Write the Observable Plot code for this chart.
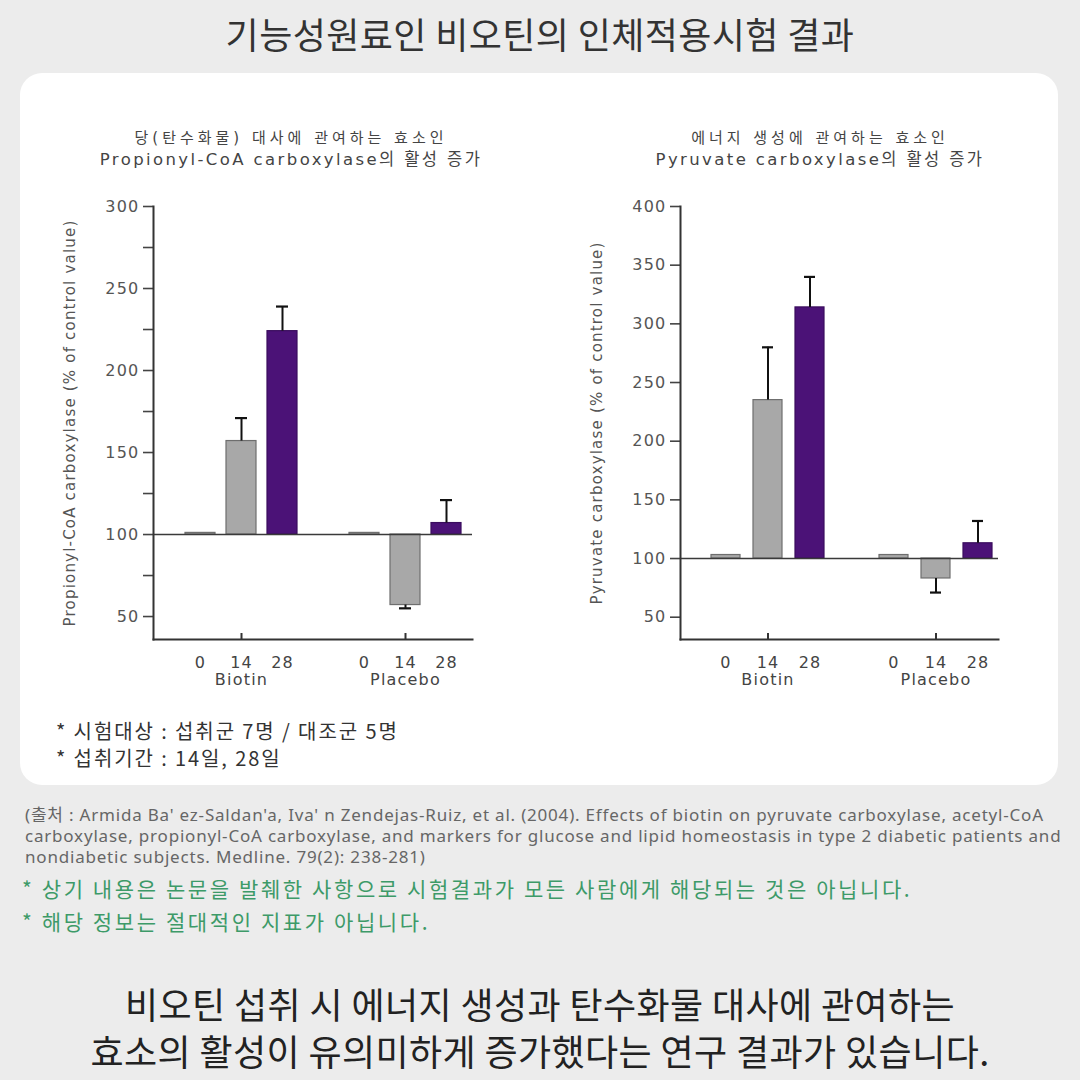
<!DOCTYPE html>
<html>
<head>
<meta charset="utf-8">
<script src="https://cdn.jsdelivr.net/npm/d3@7"></script>
<script src="https://cdn.jsdelivr.net/npm/@observablehq/plot@0.6"></script>
<style>
  html, body { margin: 0; padding: 0; background: #ececec; }
  #page { position: relative; width: 1080px; height: 1080px; background: #ececec; overflow: hidden;
          font-family: "Noto Sans CJK KR", "Noto Sans", sans-serif; }
  .abs { position: absolute; white-space: nowrap; }
  #title { left: 0; width: 1080px; top: 9px; text-align: center; font-size: 36px; line-height: 48px; color: #333; letter-spacing: 0.4px; }
  #panel { left: 20px; top: 73px; width: 1038px; height: 712px; background: #fff; border-radius: 22px; }
  .ct1 { width: 500px; text-align: center; font-size: 15px; line-height: 22px; color: #444; letter-spacing: 4px;
         font-family: "DejaVu Sans", "Noto Sans CJK KR", sans-serif; }
  .ct2 { width: 500px; text-align: center; font-size: 16.5px; line-height: 22px; color: #444; letter-spacing: 2.4px;
         font-family: "DejaVu Sans", "Noto Sans CJK KR", sans-serif; }
  .note { left: 56px; font-size: 20px; line-height: 24px; color: #333; letter-spacing: 1.9px; }
  .src { left: 25px; font-size: 17px; line-height: 21px; color: #666; font-family: "Noto Sans", "Noto Sans CJK KR", sans-serif; letter-spacing: 0.8px; }
  .green { left: 22px; font-size: 21px; line-height: 28px; color: #3d9a68; letter-spacing: 2.6px; }
  .bottom { left: 0; width: 1080px; text-align: center; font-size: 36px; line-height: 46px; color: #222; letter-spacing: 0.4px; }
  .chart { position: absolute; }
</style>
</head>
<body>
<div id="page">
  <div id="title" class="abs">기능성원료인 비오틴의 인체적용시험 결과</div>
  <div id="panel" class="abs"></div>

  <div class="abs ct1" style="left:41px; top:127px;">당(탄수화물) 대사에 관여하는 효소인</div>
  <div class="abs ct2" style="left:41px; top:149px;">Propionyl-CoA carboxylase의 활성 증가</div>
  <div class="abs ct1" style="left:570px; top:127px;">에너지 생성에 관여하는 효소인</div>
  <div class="abs ct2" style="left:570px; top:149px;">Pyruvate carboxylase의 활성 증가</div>

  <div id="chart1" class="chart" style="left:55px; top:190px;"></div>
  <div id="chart2" class="chart" style="left:585px; top:190px;"></div>

  <div class="abs note" style="top:719px;">* 시험대상 : 섭취군 7명 / 대조군 5명</div>
  <div class="abs note" style="top:746px;">* 섭취기간 : 14일, 28일</div>

  <div class="abs src" style="top:804px;">(출처 : Armida Ba' ez-Saldan'a, Iva' n Zendejas-Ruiz, et al. (2004). Effects of biotin on pyruvate carboxylase, acetyl-CoA</div>
  <div class="abs src" style="top:825px;">carboxylase, propionyl-CoA carboxylase, and markers for glucose and lipid homeostasis in type 2 diabetic patients and</div>
  <div class="abs src" style="top:846px;">nondiabetic subjects. Medline. 79(2): 238-281)</div>

  <div class="abs green" style="top:874px;">* 상기 내용은 논문을 발췌한 사항으로 시험결과가 모든 사람에게 해당되는 것은 아닙니다.</div>
  <div class="abs green" style="top:907px;">* 해당 정보는 절대적인 지표가 아닙니다.</div>

  <div class="abs bottom" style="top:980px;">비오틴 섭취 시 에너지 생성과 탄수화물 대사에 관여하는</div>
  <div class="abs bottom" style="top:1027px;">효소의 활성이 유의미하게 증가했다는 연구 결과가 있습니다.</div>
</div>

<script>
// ---------- data ----------
const groups = ["Biotin", "Placebo"];
const days = ["0", "14", "28"];

// Propionyl-CoA carboxylase (% of control value)
const pccValues = [101, 157, 224, 101, 57, 107];
const pccErrors = [0, 14, 15, 0, 2, 14];
const pccTicks = [50, 100, 150, 200, 250, 300];
const pccMinorTicks = [75, 125, 175, 225, 275];

// Pyruvate carboxylase (% of control value)
const pcValues = [103, 235, 314, 103, 83, 113];
const pcErrors = [0, 45, 26, 0, 12, 19];
const pcTicks = [50, 100, 150, 200, 250, 300, 350, 400];

const baseline = 100;

// ---------- styles ----------
const GREY = "#a8a8a8", GREY_STROKE = "#6e6e6e";
const PURPLE = "#4b1277", PURPLE_STROKE = "#3a0d5e";
const FONT = "'DejaVu Sans', 'Noto Sans', sans-serif";

// slot domain: three days per group with an empty slot between groups
const slots = [];
groups.forEach((g, gi) => {
  if (gi > 0) slots.push("gap");
  days.forEach(d => slots.push(g + " " + d));
});
const slotDay = Object.fromEntries(groups.flatMap(g => days.map(d => [g + " " + d, d])));
const groupCenter = groups.map(g => g + " " + days[1]);
const groupOfCenter = Object.fromEntries(groups.map(g => [g + " " + days[1], g]));

function rowsFrom(values, errors) {
  const rows = [];
  groups.forEach((g, gi) => days.forEach((d, di) => {
    const i = gi * days.length + di;
    const v = values[i], e = errors[i];
    rows.push({slot: g + " " + d, group: g, day: d, value: v, err: e,
               end: v >= baseline ? v + e : v - e});
  }));
  return rows;
}

function makeChart({values, errors, ticks, minorTicks, domain, label, labelOffset, margins, xOpts}) {
  const rows = rowsFrom(values, errors);
  const errRows = rows.filter(r => r.err > 0);
  const isPurple = r => r.day === days[2];
  const marks = [
    Plot.barY(rows, {
      x: "slot", y1: baseline, y2: "value",
      fill: r => isPurple(r) ? PURPLE : GREY,
      stroke: r => isPurple(r) ? PURPLE_STROKE : GREY_STROKE,
      strokeWidth: 1.2
    }),
    Plot.ruleX(errRows, {x: "slot", y1: "value", y2: "end", stroke: "#111", strokeWidth: 2}),
    Plot.tickY(errRows, {x: "slot", y: "end", stroke: "#111", strokeWidth: 2.2, insetLeft: 9, insetRight: 9}),
    Plot.ruleY([baseline], {stroke: "#3a3a3a", strokeWidth: 1.6}),
    Plot.axisY({ticks, tickSize: 10, tickPadding: 4, fontSize: 16, color: "#555", stroke: "#444",
                strokeWidth: 1.6, label: null, style: {letterSpacing: "2.5px"}}),
    Plot.axisY({ticks: [], tickSize: 0, fontSize: 15, color: "#555",
                label, labelAnchor: "center", labelOffset, labelArrow: false}),
  ];
  if (minorTicks) {
    marks.push(Plot.axisY({ticks: minorTicks, tickSize: 10, tickFormat: () => "", stroke: "#444",
                           strokeWidth: 1.6, label: null}));
  }
  marks.push(
    Plot.frame({anchor: "left", stroke: "#333", strokeWidth: 2}),
    Plot.frame({anchor: "bottom", stroke: "#333", strokeWidth: 2}),
    Plot.axisX({ticks: groupCenter, tickSize: -6, tickFormat: () => "", stroke: "#333", strokeWidth: 2, label: null}),
    Plot.axisX({ticks: slots.filter(s => s !== "gap"), tickSize: 0, tickPadding: 17, fontSize: 16,
                tickFormat: s => slotDay[s], color: "#444", label: null}),
    Plot.axisX({ticks: groupCenter, tickSize: 0, tickPadding: 34, fontSize: 16,
                tickFormat: s => groupOfCenter[s], color: "#444", label: null})
  );
  return Plot.plot({
    width: 450, height: 510,
    ...margins,
    x: {type: "band", domain: slots, ...xOpts},
    y: {domain, ticks},
    style: {fontFamily: FONT, fontSize: "15px", color: "#555", background: "transparent", letterSpacing: "1.2px"},
    marks
  });
}

document.getElementById("chart1").append(makeChart({
  values: pccValues, errors: pccErrors, ticks: pccTicks, minorTicks: pccMinorTicks,
  domain: [36, 300],
  label: "Propionyl-CoA carboxylase (% of control value)",
  labelOffset: 89,
  margins: {marginLeft: 98, marginRight: 33, marginTop: 16, marginBottom: 61},
  xOpts: {paddingInner: 0.28, paddingOuter: 0.47, align: 0.74}
}));

document.getElementById("chart2").append(makeChart({
  values: pcValues, errors: pcErrors, ticks: pcTicks, minorTicks: null,
  domain: [31, 400],
  label: "Pyruvate carboxylase (% of control value)",
  labelOffset: 89,
  margins: {marginLeft: 95, marginRight: 37, marginTop: 16, marginBottom: 61},
  xOpts: {paddingInner: 0.3, paddingOuter: 0.39, align: 0.84}
}));
</script>
</body>
</html>
